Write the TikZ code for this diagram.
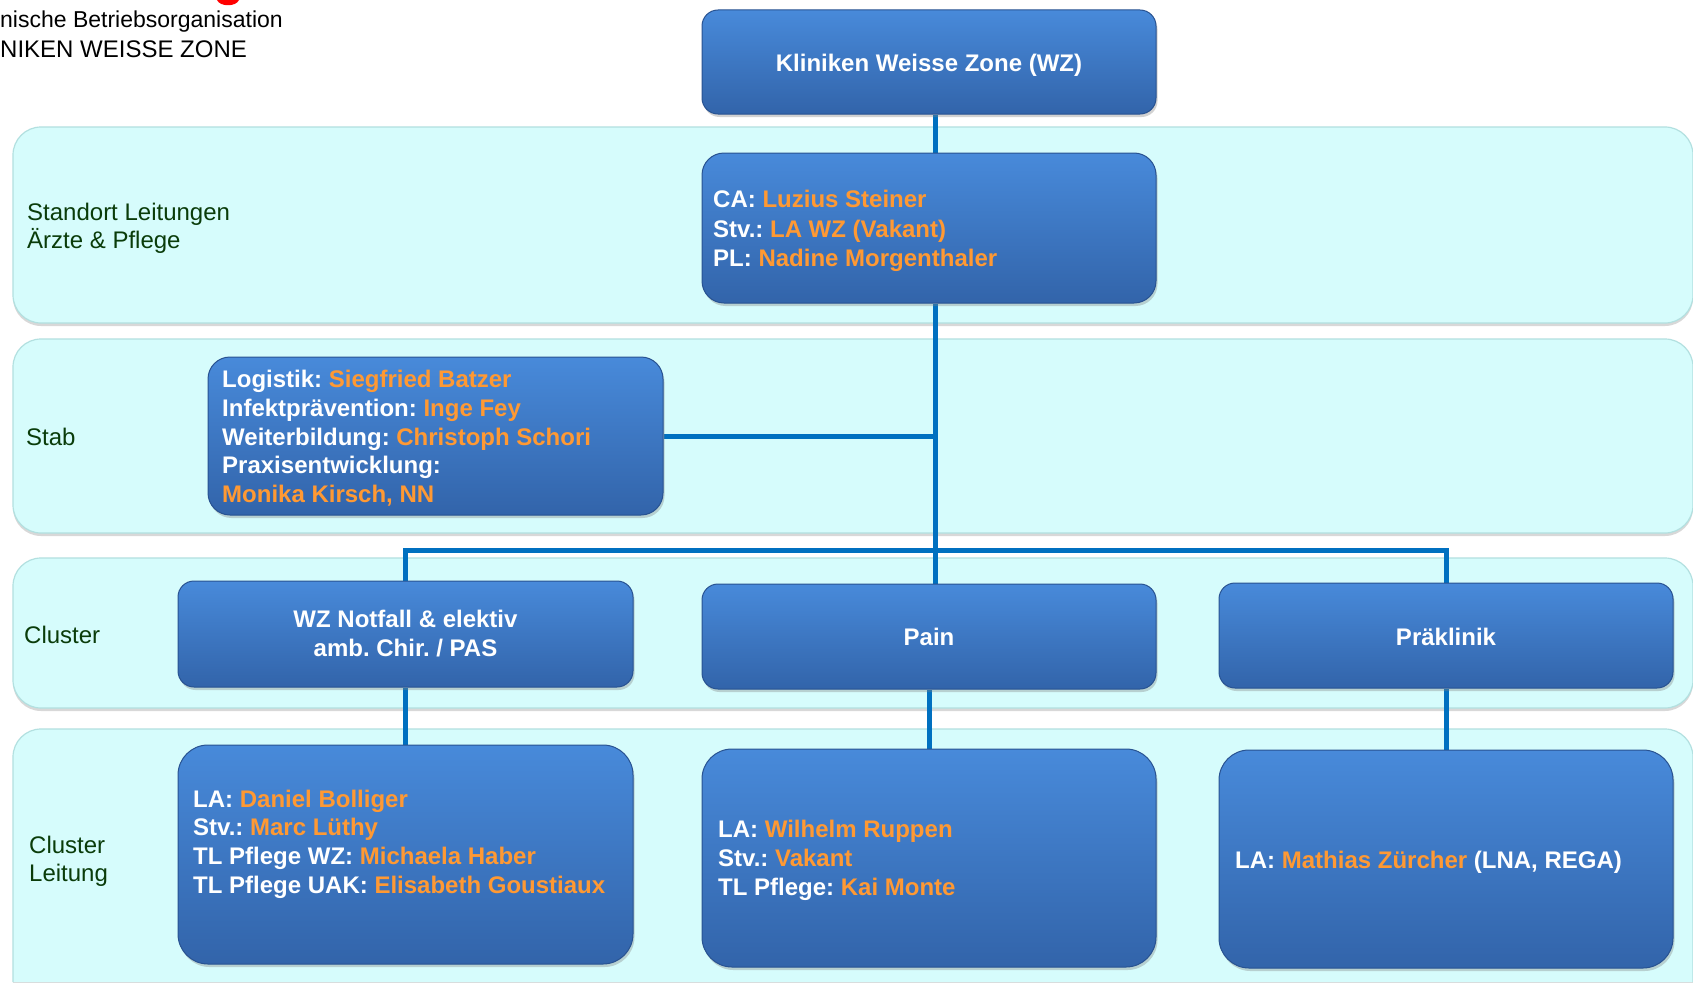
\documentclass[tikz,border=0pt]{standalone}
\usepackage{fontspec}
\setmainfont{Liberation Sans}
\usetikzlibrary{shadows}
\definecolor{boxtop}{RGB}{72,138,218}
\definecolor{boxbot}{RGB}{50,100,170}
\definecolor{boxline}{RGB}{40,82,145}
\definecolor{orng}{RGB}{255,153,51}
\definecolor{bandfill}{RGB}{214,252,252}
\definecolor{bandline}{RGB}{178,224,224}
\definecolor{connblue}{RGB}{0,112,192}
\definecolor{lblgreen}{RGB}{10,60,10}
\pgfdeclareverticalshading{bandshade}{100bp}{color(0bp)=(bandfill); color(88bp)=(bandfill); color(96bp)=(white); color(100bp)=(white)}
\newcommand{\orn}[1]{\textcolor{orng}{#1}}
\pgfdeclarelayer{bg}
\pgfdeclarelayer{wires}
\pgfsetlayers{bg,wires,main}
\tikzset{
  band/.style={draw=bandline, line width=1.2pt, shading=bandshade, rounded corners=28pt,
    drop shadow={opacity=0.3, shadow xshift=0pt, shadow yshift=-3pt}},
  obox/.style={rectangle, draw=boxline, line width=1pt, top color=boxtop, bottom color=boxbot,
    inner sep=0pt, drop shadow={opacity=0.35, shadow xshift=1.5pt, shadow yshift=-3pt}},
  wire/.style={draw=connblue, line width=5pt, line join=miter},
  wt/.style={font=\fontsize{24}{29}\selectfont\bfseries\frenchspacing, text=white, inner sep=0pt},
  lbl/.style={font=\fontsize{24}{29}\selectfont, text=lblgreen, inner sep=0pt, anchor=base west},
  hdr/.style={text=black, inner sep=0pt, anchor=base west},
}
\begin{document}
\frenchspacing
\begin{tikzpicture}[x=1pt,y=-1pt]
\useasboundingbox (0,0) rectangle (1693,982);
\begin{pgfonlayer}{bg}
  \fill[white] (0,0) rectangle (1693,982);
  \path[band] (13,127) rectangle (1693,323);
  \path[band] (13,339) rectangle (1693,533);
  \path[band] (13,558) rectangle (1693,708);
  \path[band] (13,982) -- (13,729) -- (1693,729) -- (1693,982);
\end{pgfonlayer}

% header
\fill[red] (217,0) .. controls (220,7) and (236,7) .. (239,0) -- cycle;
\node[hdr, font=\fontsize{23}{28}\selectfont] (h1) at (0,28) {nische Betriebsorganisation};
\node[hdr, font=\fontsize{24}{28}\selectfont] (h2) at (0,57) {NIKEN WEISSE ZONE};

% row labels
\node[lbl] (l1a) at (27,220) {Standort Leitungen};
\node[lbl] (l1b) at (27,248) {Ärzte \& Pflege};
\node[lbl] (l2) at (26,445) {Stab};
\node[lbl] (l3) at (24,643) {Cluster};
\node[lbl] (l4a) at (29,853) {Cluster};
\node[lbl] (l4b) at (29,881) {Leitung};

% boxes
\node[obox, rounded corners=16pt, minimum width=454pt, minimum height=104pt] (top) at (929,62) {};
\node[obox, rounded corners=22pt, minimum width=454pt, minimum height=150pt] (ca) at (929,228) {};
\node[obox, rounded corners=22pt, minimum width=455pt, minimum height=158pt] (stab) at (435.5,436) {};
\node[obox, rounded corners=16pt, minimum width=455pt, minimum height=106pt] (cwz) at (405.5,634) {};
\node[obox, rounded corners=16pt, minimum width=454pt, minimum height=105pt] (cpain) at (929,636.5) {};
\node[obox, rounded corners=16pt, minimum width=454pt, minimum height=105pt] (cprae) at (1446,635.5) {};
\node[obox, rounded corners=30pt, minimum width=455pt, minimum height=219pt] (lwz) at (405.5,854.5) {};
\node[obox, rounded corners=30pt, minimum width=454pt, minimum height=218pt] (lpain) at (929,858) {};
\node[obox, rounded corners=30pt, minimum width=454pt, minimum height=218pt] (lprae) at (1446,859) {};

% connectors
\coordinate (trunk) at (935,0);
\coordinate (bus) at (0,550);
\begin{pgfonlayer}{wires}
  \draw[wire] ([xshift=6pt]top.south) -- ([xshift=6pt]ca.north);
  \draw[wire] ([xshift=6pt]ca.south) -- ([xshift=6pt]cpain.north);
  \draw[wire] (stab.east) -- (stab.east -| trunk);
  \draw[wire] (cwz.north) -- (cwz.north |- bus) -- (cprae.north |- bus) -- (cprae.north);
  \draw[wire] (cwz.south) -- (lwz.north);
  \draw[wire] (cpain.south) -- (lpain.north);
  \draw[wire] (cprae.south) -- (lprae.north);
\end{pgfonlayer}

% box texts
\node[wt, anchor=base] (ttop) at (929,71) {Kliniken Weisse Zone (WZ)};

\node[wt, anchor=base west] (ca1) at (713,207) {CA: \orn{Luzius Steiner}};
\node[wt, anchor=base west] (ca2) at (713,237) {Stv.: \orn{LA WZ (Vakant)}};
\node[wt, anchor=base west] (ca3) at (713,266) {PL: \orn{Nadine Morgenthaler}};

\node[wt, anchor=base west] (st1) at (222,387) {Logistik: \orn{Siegfried Batzer}};
\node[wt, anchor=base west] (st2) at (222,416) {Infektprävention: \orn{Inge Fey}};
\node[wt, anchor=base west] (st3) at (222,445) {Weiterbildung: \orn{Christoph Schori}};
\node[wt, anchor=base west] (st4) at (222,473) {Praxisentwicklung:};
\node[wt, anchor=base west] (st5) at (222,502) {\orn{Monika Kirsch, NN}};

\node[wt, anchor=base] (cw1) at (405.5,627) {WZ Notfall \& elektiv};
\node[wt, anchor=base] (cw2) at (405.5,656) {amb. Chir. / PAS};
\node[wt, anchor=base] (cp1) at (929,645) {Pain};
\node[wt, anchor=base] (cr1) at (1446,645) {Präklinik};

\node[wt, anchor=base west] (lw1) at (193,807) {LA: \orn{Daniel Bolliger}};
\node[wt, anchor=base west] (lw2) at (193,835) {Stv.: \orn{Marc Lüthy}};
\node[wt, anchor=base west] (lw3) at (193,864) {TL Pflege WZ: \orn{Michaela Haber}};
\node[wt, anchor=base west] (lw4) at (193,893) {TL Pflege UAK: \orn{Elisabeth Goustiaux}};

\node[wt, anchor=base west] (lp1) at (718,837) {LA: \orn{Wilhelm Ruppen}};
\node[wt, anchor=base west] (lp2) at (718,866) {Stv.: \orn{Vakant}};
\node[wt, anchor=base west] (lp3) at (718,895) {TL Pflege: \orn{Kai Monte}};

\node[wt, anchor=base west] (lr1) at (1235,868) {LA: \orn{Mathias Zürcher} (LNA, REGA)};
\end{tikzpicture}
\end{document}
